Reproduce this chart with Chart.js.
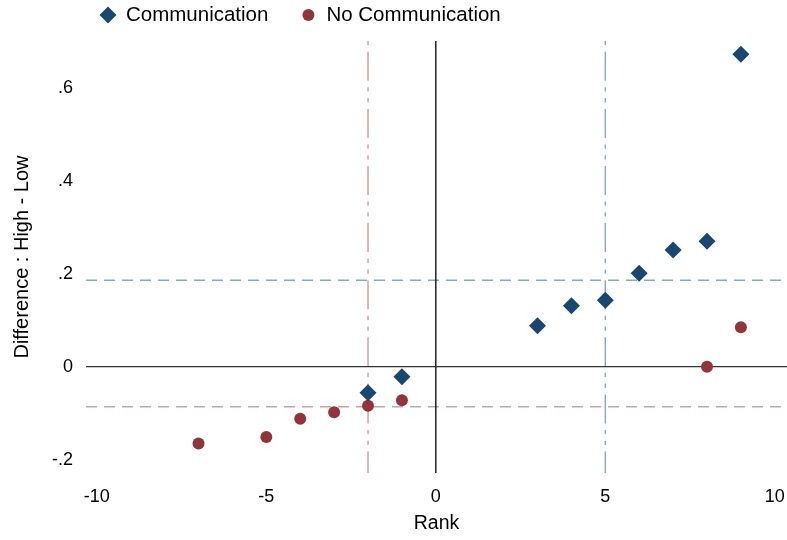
<!DOCTYPE html>
<html>
<head>
<meta charset="utf-8">
<script src="https://cdn.jsdelivr.net/npm/chart.js@4.4.1/dist/chart.umd.min.js"></script>
<style>
html,body{margin:0;padding:0;background:#fff;}
#wrap{width:787px;height:540px;position:relative;}
</style>
</head>
<body>
<div id="wrap"><canvas id="c" width="787" height="540"></canvas></div>
<script>
// ---- data ----
const commRank = [-2, -1, 3, 4, 5, 6, 7, 8, 9];
const commDiff = [-0.056, -0.0215, 0.088, 0.131, 0.143, 0.201, 0.251, 0.270, 0.672];
const noCommRank = [-7, -5, -4, -3, -2, -1, 8, 9];
const noCommDiff = [-0.165, -0.151, -0.112, -0.098, -0.084, -0.072, 0.0, 0.085];
const commRefDiff = 0.186;     // horizontal dashed (Communication)
const noCommRefDiff = -0.086;  // horizontal dashed (No Communication)
const commRefRank = 5;         // vertical dash-dot (Communication)
const noCommRefRank = -2;      // vertical dash-dot (No Communication)
const xTicks = [-10, -5, 0, 5, 10];
const yTicks = [-0.2, 0, 0.2, 0.4, 0.6];
const xRange = [-10.32, 10.36];
const yRange = [-0.2286, 0.7004];
const seriesLabels = ['Communication', 'No Communication'];
const xTitle = 'Rank';
const yTitle = 'Difference : High - Low';

const toXY = (xs, ys) => xs.map((x, i) => ({x: x, y: ys[i]}));
const hLine = (v) => [{x: xRange[0], y: v}, {x: xRange[1], y: v}];
const vLine = (v) => [{x: v, y: yRange[1]}, {x: v, y: yRange[0]}];
const fmtY = (v) => v === 0 ? '0' : v.toFixed(1).replace('0.', '.');

const FONT = '"Liberation Sans", Arial, sans-serif';
Chart.defaults.font.family = FONT;
Chart.defaults.font.size = 18;
Chart.defaults.color = '#000';

const BLUE = '#1a476f', RED = '#90353b';
const dashDot = [4.3, 6.5, 29, 6.5, 4.3, 6.5];

const legendPlugin = {
  id: 'topLegend',
  afterDraw(chart) {
    const ctx = chart.ctx;
    const items = chart.data.datasets.filter(d => d.inLegend);
    const y = 15;
    let x = 99;
    ctx.save();
    ctx.font = '20.5px ' + FONT;
    ctx.textBaseline = 'middle';
    ctx.textAlign = 'left';
    items.forEach(d => {
      ctx.fillStyle = d.backgroundColor;
      Chart.helpers.drawPoint(ctx, {pointStyle: d.pointStyle, radius: d.pointRadius, rotation: 0, borderWidth: 0}, x + 9, y);
      ctx.fillStyle = '#000';
      ctx.fillText(d.label, x + 27, y);
      x = x + 27 + ctx.measureText(d.label).width + 31;
    });
    ctx.restore();
  }
};

const refLine = (data, color, width, dash) => ({
  data: data, showLine: true, borderColor: color, borderWidth: width,
  borderDash: dash, pointRadius: 0, pointHoverRadius: 0, fill: false
});

new Chart(document.getElementById('c'), {
  type: 'scatter',
  data: {
    datasets: [
      {label: seriesLabels[0], inLegend: true, data: toXY(commRank, commDiff),
       pointStyle: 'rectRot', pointRadius: 8.5, pointHoverRadius: 8.5,
       backgroundColor: BLUE, borderWidth: 0},
      {label: seriesLabels[1], inLegend: true, data: toXY(noCommRank, noCommDiff),
       pointStyle: 'circle', pointRadius: 6, pointHoverRadius: 6,
       backgroundColor: RED, borderWidth: 0},
      refLine(hLine(0), '#333333', 1.3, []),
      refLine(vLine(0), '#000000', 1.3, []),
      refLine(hLine(commRefDiff), '#8fa6bf', 1.4, [11, 7]),
      refLine(hLine(noCommRefDiff), '#d0a1a5', 1.4, [11, 7]),
      refLine(vLine(commRefRank), '#8fa6bf', 1.4, dashDot),
      refLine(vLine(noCommRefRank), '#cc9da1', 1.4, dashDot)
    ]
  },
  options: {
    responsive: false,
    animation: false,
    devicePixelRatio: 1,
    layout: {autoPadding: false, padding: {top: 41, left: 0, right: 0, bottom: 0}},
    plugins: {legend: {display: false}, tooltip: {enabled: false}},
    scales: {
      x: {
        type: 'linear', min: xRange[0], max: xRange[1],
        grid: {display: false, drawTicks: false},
        border: {display: false},
        ticks: {padding: 13, color: '#000', font: {size: 18}},
        title: {display: true, text: xTitle, color: '#000', font: {size: 19.5}, padding: {top: 0, bottom: 5}},
        afterBuildTicks: (s) => { s.ticks = xTicks.map(v => ({value: v})); },
        afterFit: (s) => { s.height = 67; s.paddingLeft = 0; s.paddingRight = 0; }
      },
      y: {
        type: 'linear', min: yRange[0], max: yRange[1],
        grid: {display: false, drawTicks: false},
        border: {display: false},
        ticks: {padding: 13, color: '#000', font: {size: 18}, callback: (v) => fmtY(v)},
        title: {display: true, text: yTitle, color: '#000', font: {size: 20}, padding: {top: 10, bottom: 0}},
        afterBuildTicks: (s) => { s.ticks = yTicks.map(v => ({value: v})); },
        afterFit: (s) => { s.width = 86; s.paddingTop = 0; s.paddingBottom = 0; }
      }
    }
  },
  plugins: [legendPlugin]
});
</script>
</body>
</html>
